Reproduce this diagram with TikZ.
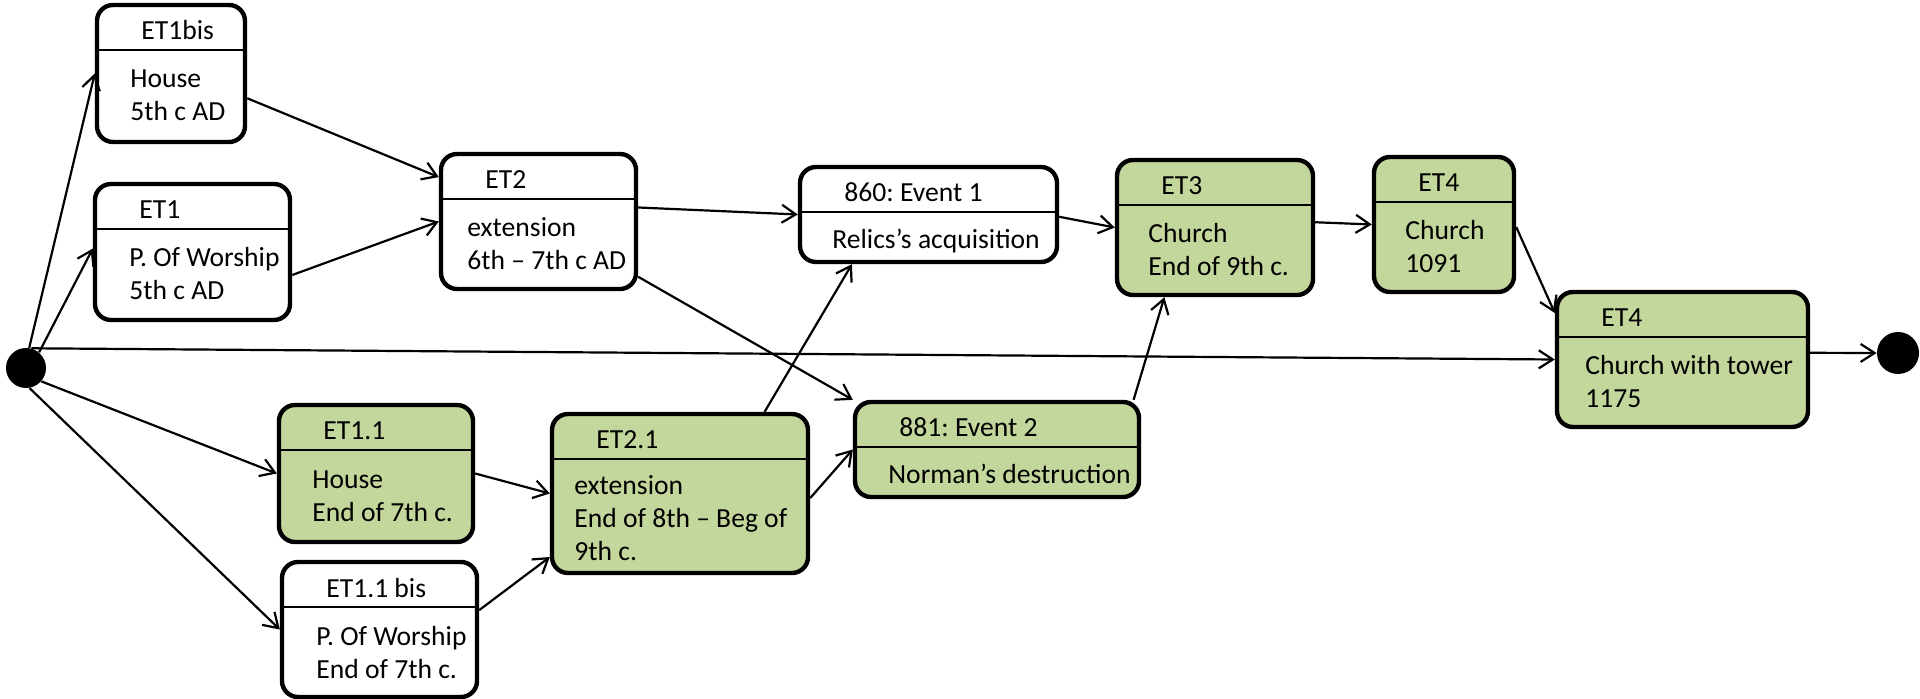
\documentclass[tikz,border=0pt]{standalone}
\usepackage{fontspec}
\setmainfont{Carlito}
\usepackage{tikz}
\usetikzlibrary{arrows.meta}
\usepackage{xcolor}
\definecolor{etgreen}{RGB}{195,214,155}
\frenchspacing

\begin{document}
\begin{tikzpicture}[x=0.5pt,y=-0.5pt,
  font=\fontsize{13.8}{16.5}\selectfont,
  box/.style={draw, rounded corners=8pt, line width=2.2pt, inner sep=0pt},
  txt/.style={inner sep=0pt, anchor=base west},
  dot/.style={circle, fill=black, inner sep=0pt},
  arr/.style={line width=1.1pt, -{Straight Barb[length=7pt,width=9pt]}}]
\useasboundingbox (0,0) rectangle (1920,699);

% initial and final states
\node[dot, minimum size=20pt] (start) at (26,368) {};
\node[dot, minimum size=21pt] (stop) at (1898,353) {};

% states: name/left/top/right/bottom/fill/indent/first baseline/extra lines/title/body
\foreach \nm/\xl/\yt/\xr/\yb/\col/\bx/\by/\nl/\ti/\bd in {
    et1bis/97/5/245/142/white/33/83/1/{ET1bis}/{House\\5th c AD},
    et1/95/184/290/320/white/34/83/1/{ET1}/{P. Of Worship\\5th c AD},
    et2/441/154/636/289/white/26/83/1/{ET2}/{extension\\6th – 7th c AD},
    et11/279/405/473/542/etgreen/33/83/1/{ET1.1}/{House\\End of 7th c.},
    et11bis/282/562/477/697/white/34/83/1/{ET1.1 bis}/{P. Of Worship\\End of 7th c.},
    et21/552/414/808/573/etgreen/22/80/2/{ET2.1}/{extension\\End of 8th – Beg of\\9th c.},
    ev1/800/167/1057/262/white/32/82/0/{860: Event 1}/{Relics’s acquisition},
    et3/1117/160/1313/295/etgreen/31/83/1/{ET3}/{Church\\End of 9th c.},
    ev2/855/402/1139/497/etgreen/33/82/0/{881: Event 2}/{Norman’s destruction},
    et4/1374/157/1514/292/etgreen/31/83/1/{ET4}/{Church\\1091},
    et4t/1557/292/1808/427/etgreen/28/83/1/{ET4}/{Church with tower\\1175}} {
    \node[box, fill=\col, minimum width={(\xr-\xl)/2}, minimum height={(\yb-\yt)/2}]
        (\nm) at ({(\xl+\xr)/2},{(\yt+\yb)/2}) {};
    \draw[line width=0.7pt] (\xl,\yt+45) -- (\xr,\yt+45);
    \node[txt] (\nm-t) at (\xl+44,\yt+35) {\ti};
    % base anchor sits on the last line
    \node[txt, align=left] (\nm-b) at (\xl+\bx,\yt+\by+33*\nl) {\bd};
}

% transitions
\foreach \a/\z in {start.81/et1bis.west, start.50/et1.178, start.-41/et11.west,
    start.-80/et11bis.west, start.75/et4t.west, et1bis.-18/et2.156, et1.-13/et2.west,
    et2.8/ev1.west, et2.-29/ev2.161, et11.east/et21.west, et11bis.11/et21.206,
    et21.44/ev1.213, et21.-2/ev2.west, ev1.-1/et3.west, ev2.20/et3.234,
    et3.3/et4.west, et4.-2/et4t.160, et4t.3/stop.west}
    \draw[arr] (\a) -- (\z);

\end{tikzpicture}
\end{document}
